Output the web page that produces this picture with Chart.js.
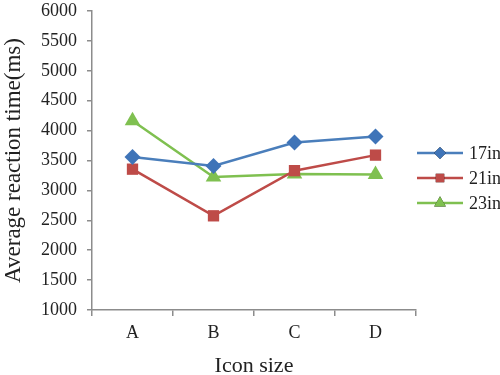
<!DOCTYPE html>
<html lang="en">
<head>
<meta charset="UTF-8">
<title>Average reaction time by icon size</title>
<script src="https://cdn.jsdelivr.net/npm/chart.js@4.4.1/dist/chart.umd.min.js"></script>
<style>
  html, body { margin: 0; padding: 0; background: #fff; }
  #wrap { width: 500px; height: 375px; position: relative; }
</style>
</head>
<body>
<div id="wrap"><canvas id="chart"></canvas></div>
<script>
const categories = ['A', 'B', 'C', 'D'];
const seriesNames = ['17in', '21in', '23in'];
const values17 = [3560, 3410, 3800, 3900];
const values21 = [3355, 2575, 3330, 3590];
const values23 = [4165, 3225, 3275, 3265];

const serif = '"Liberation Serif", "DejaVu Serif", serif';
const axisGray = '#8c8c8c';

// legend drawn like the original: short line with a marker in the middle
const lineLegend = {
  id: 'lineLegend',
  afterDraw(chart) {
    const ctx = chart.ctx;
    const x0 = 417, x1 = 463;
    const rows = [153, 178, 203];
    chart.data.datasets.forEach((ds, i) => {
      const y = rows[i];
      ctx.save();
      ctx.strokeStyle = ds.borderColor;
      ctx.lineWidth = 2.5;
      ctx.beginPath();
      ctx.moveTo(x0, y);
      ctx.lineTo(x1, y);
      ctx.stroke();
      Chart.helpers.drawPoint(ctx, {
        pointStyle: ds.pointStyle,
        radius: ds.pointRadius * 0.75,
        borderWidth: 0
      }, (x0 + x1) / 2, y);
      ctx.fillStyle = ds.pointBackgroundColor;
      ctx.fill();
      ctx.fillStyle = '#222';
      ctx.font = '18px ' + serif;
      ctx.textBaseline = 'middle';
      ctx.fillText(ds.label, 469, y + 1);
      ctx.restore();
    });
  }
};

new Chart(document.getElementById('chart'), {
  type: 'line',
  data: {
    labels: categories,
    datasets: [
      { label: seriesNames[0], data: values17, borderColor: '#4a7ebb', backgroundColor: '#4a7ebb',
        pointBackgroundColor: '#3f74b8', pointStyle: 'rectRot', pointRadius: 8, pointBorderWidth: 0 },
      { label: seriesNames[1], data: values21, borderColor: '#be4b48', backgroundColor: '#be4b48',
        pointBackgroundColor: '#be4b48', pointStyle: 'rect', pointRadius: 8, pointBorderWidth: 0 },
      { label: seriesNames[2], data: values23, borderColor: '#7fc050', backgroundColor: '#7fc050',
        pointBackgroundColor: '#7fc050', pointStyle: 'triangle', pointRadius: 9, pointBorderWidth: 0 }
    ]
  },
  options: {
    responsive: true,
    maintainAspectRatio: false,
    animation: false,
    elements: { line: { borderWidth: 2.5, tension: 0 } },
    layout: { padding: { top: 0, right: 84, left: 0, bottom: 0 } },
    plugins: { legend: { display: false }, tooltip: { enabled: false } },
    scales: {
      x: {
        offset: true,
        border: { color: axisGray, width: 1.5 },
        grid: { offset: true, drawOnChartArea: false, drawTicks: true, tickLength: 6, color: axisGray, lineWidth: 1.5 },
        ticks: { color: '#222', font: { family: serif, size: 18 }, padding: 6 },
        title: { display: true, text: 'Icon size', color: '#222', font: { family: serif, size: 22, lineHeight: 0.8 }, padding: 0 },
        afterFit(scale) { scale.height = 65; }
      },
      y: {
        min: 1000,
        max: 6000,
        border: { color: axisGray, width: 1.5 },
        grid: { drawOnChartArea: false, drawTicks: true, tickLength: 5, color: axisGray, lineWidth: 1.5 },
        ticks: { stepSize: 500, color: '#222', font: { family: serif, size: 18 }, padding: 10,
          callback: v => String(v) },
        title: { display: true, text: 'Average reaction time(ms)', color: '#222', font: { family: serif, size: 23 }, padding: 0 },
        afterFit(scale) {
          scale.width = 92;
          scale.paddingTop = 11;
        }
      }
    }
  },
  plugins: [lineLegend]
});
</script>
</body>
</html>
